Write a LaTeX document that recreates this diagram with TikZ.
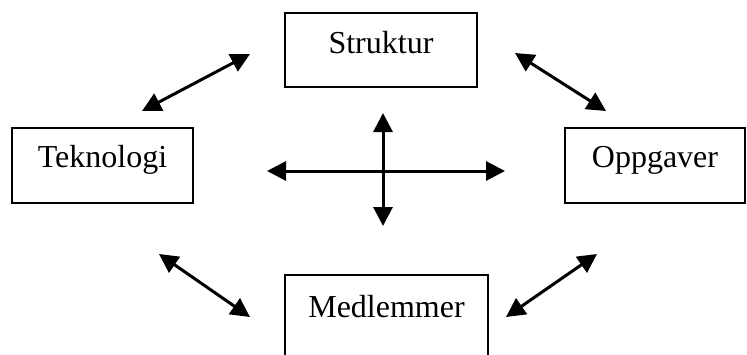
\documentclass[tikz,border=0pt]{standalone}
\usepackage{fontspec}
\setmainfont{Liberation Serif}
\usetikzlibrary{arrows.meta}
\tikzset{
  box/.style={draw, line width=1.6pt, inner sep=0pt, anchor=base,
    font=\fontsize{32}{36}\selectfont},
  biarrow/.style={line width=3pt, {Triangle[length=19pt,width=19pt]}-{Triangle[length=19pt,width=19pt]}}
}
\begin{document}
\begin{tikzpicture}[x=1pt,y=-1pt]
  \useasboundingbox (0,0) rectangle (747,354);
  \clip (0,0) rectangle (747,354);

  % the four boxes (baseline placement, height split into text height/depth)
  \node[box, minimum width=192pt, text height=40pt, text depth=34pt]
    (struktur) at (381,53) {Struktur};
  \node[box, minimum width=181pt, text height=39pt, text depth=36pt]
    (teknologi) at (102.5,167) {Teknologi};
  \node[box, minimum width=180pt, text height=39pt, text depth=36pt]
    (oppgaver) at (655,167) {Oppgaver};
  \node[box, minimum width=203pt, text height=42pt, text depth=63pt]
    (medlemmer) at (386.5,317) {Medlemmer};

  % arrow ends
  \coordinate (tl1) at (142,111);
  \coordinate (tl2) at (250,54);
  \coordinate (tr1) at (515,53);
  \coordinate (tr2) at (606,111);
  \coordinate (bl1) at (159,254);
  \coordinate (bl2) at (250,317);
  \coordinate (br1) at (597,254);
  \coordinate (br2) at (506,317);
  \coordinate (hl) at (267,171);
  \coordinate (hr) at (505,171);
  \coordinate (vt) at (383,113);
  \coordinate (vb) at (383,226);

  % diagonal double arrows
  \draw[biarrow] (tl1) -- (tl2);
  \draw[biarrow] (tr1) -- (tr2);
  \draw[biarrow] (bl1) -- (bl2);
  \draw[biarrow] (br1) -- (br2);

  % central cross
  \draw[biarrow] (hl) -- (hr);
  \draw[biarrow] (vt) -- (vb);
\end{tikzpicture}
\end{document}
